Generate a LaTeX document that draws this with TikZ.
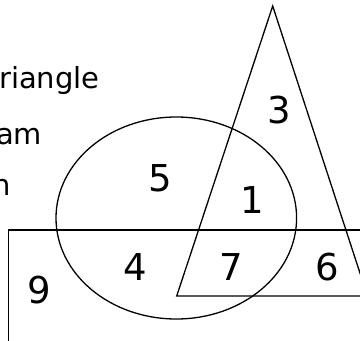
\documentclass[tikz,border=0pt]{standalone}
\usepackage{fontspec}
\usepackage{tikz}
\newfontfamily\vennfont{DejaVu Sans}

\begin{document}
\begin{tikzpicture}[
    x=1pt, y=-1pt,
    shape line/.style={draw, line width=1.3pt},
    num/.style={font=\vennfont\fontsize{37}{40}\selectfont, inner sep=0pt},
    word/.style={font=\vennfont\fontsize{29}{34}\selectfont, anchor=base west, inner sep=0pt}
  ]
  \useasboundingbox (0,0) rectangle (360,341);
  \clip (0,0) rectangle (360,341);

  % cut-off caption
  \node[word] (capA) at (-1,88) {riangle};
  \node[word] (capB) at (-4,144) {am};
  \node[word] (capC) at (-8,195) {n};

  % the three sets
  \coordinate (apex) at (272.7,6);
  \coordinate (tright) at (367.5,296);
  \coordinate (tleft) at (176.7,296);
  \draw[shape line] (8.3,230) rectangle (375,350);
  \draw[shape line] (176.3,218) ellipse [x radius=120.3, y radius=101];
  \draw[shape line] (apex) -- (tright) -- (tleft) -- cycle;

  % region counts
  \node[num] (n3) at (279,110) {3};
  \node[num] (n5) at (160,178) {5};
  \node[num] (n1) at (252,200) {1};
  \node[num] (n4) at (135,267) {4};
  \node[num] (n7) at (231,267) {7};
  \node[num] (n6) at (327,267) {6};
  \node[num] (n9) at (39,290) {9};
\end{tikzpicture}
\end{document}
